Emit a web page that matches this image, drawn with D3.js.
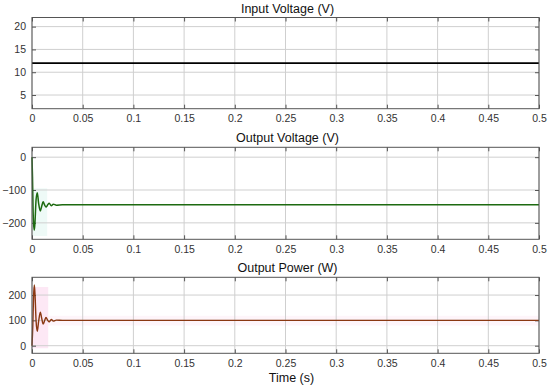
<!DOCTYPE html>
<html>
<head>
<meta charset="utf-8">
<script src="https://cdn.jsdelivr.net/npm/d3@7"></script>
<style>
  body { margin: 0; background: #fff; }
  text { font-family: "Liberation Sans", Arial, sans-serif; fill: #333; }
  .grid line { stroke: #cfcfcf; stroke-width: 1; }
  .tick-label { font-size: 10.5px; }
  .title { font-size: 12.5px; fill: #111; }
</style>
</head>
<body>
<div id="chart"></div>
<script>
// Data
const xTicks = [0, 0.05, 0.1, 0.15, 0.2, 0.25, 0.3, 0.35, 0.4, 0.45, 0.5];

const vinTime = [0, 0.5];
const vinValue = [12, 12];

const voutTime = [0, 0.0005, 0.001, 0.0015, 0.0023, 0.003, 0.004, 0.0052, 0.0065, 0.0082, 0.0095, 0.011, 0.0125, 0.0138, 0.0155, 0.017, 0.019, 0.021, 0.024, 0.03, 0.5];
const voutValue = [0, -60, -150, -200, -222, -195, -130, -108, -140, -164, -150, -136, -146, -152, -145, -140, -148, -143, -146, -145, -145];

const poutTime = [0, 0.0008, 0.0015, 0.0023, 0.003, 0.004, 0.0052, 0.0065, 0.0082, 0.0095, 0.011, 0.0125, 0.0138, 0.0155, 0.017, 0.019, 0.021, 0.024, 0.03, 0.5];
const poutValue = [0, 80, 190, 240, 200, 100, 57, 95, 132, 110, 85, 100, 112, 100, 94, 104, 97, 101, 100, 100];

// faint shaded envelopes behind the transients
const voutEnvTime = [0, 0.015];
const voutEnvHi = [-95, -95];
const voutEnvLo = [-240, -240];
const poutEnvTime = [0, 0.016];
const poutEnvHi = [232, 232];
const poutEnvLo = [-10, -10];
const poutBandTime = [0, 0.5];
const poutBandHi = [118, 118];
const poutBandLo = [80, 80];

const panels = [
  { title: "Input Voltage (V)", top: 17.5, bottom: 108.7, domain: [2, 22], ticks: [5, 10, 15, 20],
    t: vinTime, v: vinValue, color: "#000", width: 1.7, envs: [] },
  { title: "Output Voltage (V)", top: 147.3, bottom: 239.3, domain: [-250, 30], ticks: [-200, -100, 0],
    t: voutTime, v: voutValue, color: "#1d6a10", width: 1.5,
    envs: [{ t: voutEnvTime, hi: voutEnvHi, lo: voutEnvLo, fill: "#eefaf7" }] },
  { title: "Output Power (W)", top: 277.3, bottom: 353.3, domain: [-30, 270], ticks: [0, 100, 200],
    t: poutTime, v: poutValue, color: "#8a3812", width: 1.4,
    envs: [{ t: poutBandTime, hi: poutBandHi, lo: poutBandLo, fill: "#fef5fa" },
           { t: poutEnvTime, hi: poutEnvHi, lo: poutEnvLo, fill: "#fde8f5" }] }
];

const W = 550, H = 388, left = 32, right = 539;

const svg = d3.select("#chart").append("svg")
    .attr("width", W)
    .attr("height", H);

const x = d3.scaleLinear().domain([0, 0.5]).range([left, right]);
const fmtX = d => d === 0 ? "0" : String(+d.toFixed(2));

panels.forEach(p => {
  const y = d3.scaleLinear().domain(p.domain).range([p.bottom, p.top]);
  const g = svg.append("g");

  // shaded envelopes
  p.envs.forEach(e => {
    const envData = e.t.map((t, i) => ({ t, hi: e.hi[i], lo: e.lo[i] }));
    g.append("path")
      .datum(envData)
      .attr("fill", e.fill)
      .attr("d", d3.area().x(d => x(d.t)).y0(d => y(d.lo)).y1(d => y(d.hi)));
  });

  // grid
  const grid = g.append("g").attr("class", "grid");
  grid.selectAll(".gx").data(xTicks).enter().append("line")
    .attr("x1", d => x(d)).attr("x2", d => x(d))
    .attr("y1", p.top).attr("y2", p.bottom);
  grid.selectAll(".gy").data(p.ticks).enter().append("line")
    .attr("x1", left).attr("x2", right)
    .attr("y1", d => y(d)).attr("y2", d => y(d));

  // inward ticks on all four sides
  g.append("g").attr("transform", `translate(0,${p.bottom})`)
    .call(d3.axisBottom(x).tickValues(xTicks).tickSizeInner(-4).tickSizeOuter(0).tickFormat(fmtX).tickPadding(6))
    .call(a => a.select(".domain").remove())
    .call(a => a.selectAll("line").attr("stroke", "#555"))
    .call(a => a.selectAll("text").attr("class", "tick-label").attr("font-size", null).attr("font-family", null));
  g.append("g").attr("transform", `translate(0,${p.top})`)
    .call(d3.axisTop(x).tickValues(xTicks).tickSizeInner(-4).tickSizeOuter(0).tickFormat(""))
    .call(a => a.select(".domain").remove())
    .call(a => a.selectAll("line").attr("stroke", "#555"));
  g.append("g").attr("transform", `translate(${left},0)`)
    .call(d3.axisLeft(y).tickValues(p.ticks).tickSizeInner(-4).tickSizeOuter(0).tickPadding(6))
    .call(a => a.select(".domain").remove())
    .call(a => a.selectAll("line").attr("stroke", "#555"))
    .call(a => a.selectAll("text").attr("class", "tick-label").attr("font-size", null).attr("font-family", null));
  g.append("g").attr("transform", `translate(${right},0)`)
    .call(d3.axisRight(y).tickValues(p.ticks).tickSizeInner(-4).tickSizeOuter(0).tickFormat(""))
    .call(a => a.select(".domain").remove())
    .call(a => a.selectAll("line").attr("stroke", "#555"));

  // the trace
  const data = p.t.map((t, i) => ({ t, v: p.v[i] }));
  g.append("path")
    .datum(data)
    .attr("fill", "none")
    .attr("stroke", p.color)
    .attr("stroke-width", p.width)
    .attr("stroke-linejoin", "round")
    .attr("d", d3.line().x(d => x(d.t)).y(d => y(d.v)).curve(d3.curveMonotoneX));

  // frame
  g.append("rect")
    .attr("x", left).attr("y", p.top)
    .attr("width", right - left).attr("height", p.bottom - p.top)
    .attr("fill", "none").attr("stroke", "#555").attr("stroke-width", 1);

  // title
  g.append("text")
    .attr("class", "title")
    .attr("x", (left + right) / 2 + 2)
    .attr("y", p.top - 5)
    .attr("text-anchor", "middle")
    .text(p.title);
});

svg.append("text")
  .attr("class", "title")
  .attr("x", (left + right) / 2 + 6)
  .attr("y", 382)
  .attr("text-anchor", "middle")
  .text("Time (s)");
</script>
</body>
</html>
